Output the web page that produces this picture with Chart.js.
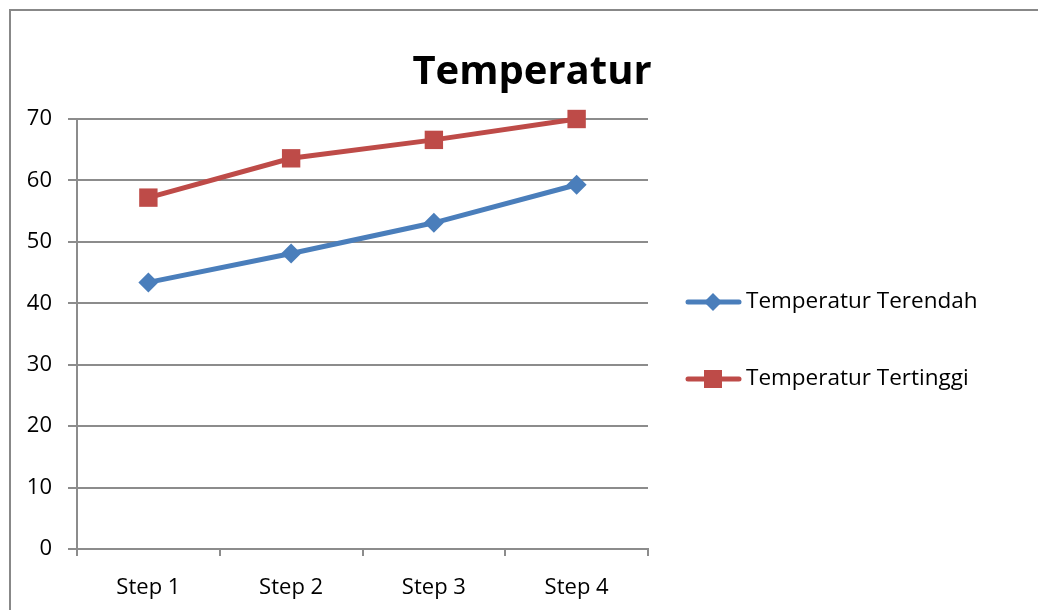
<!DOCTYPE html>
<html>
<head>
<meta charset="utf-8">
<script src="https://cdn.jsdelivr.net/npm/chart.js@4"></script>
<style>
  html, body { margin: 0; padding: 0; background: #fff; }
  #wrap { width: 1038px; height: 610px; }
</style>
</head>
<body>
<div id="wrap"><canvas id="c" width="1038" height="610"></canvas></div>
<script>
const chartTitle = "Temperatur";
const categories = ["Step 1", "Step 2", "Step 3", "Step 4"];
const seriesNames = ["Temperatur Terendah", "Temperatur Tertinggi"];
const lowValues = [43.4, 48.1, 53.1, 59.3];
const highValues = [57.2, 63.6, 66.6, 70.0];
const yTicks = [0, 10, 20, 30, 40, 50, 60, 70];

const FONT = "'Open Sans', 'DejaVu Sans', sans-serif";
const GRID = "#8c8c8c";
const BLUE = "#4A7EBB";
const RED = "#BE4B48";

const decorPlugin = {
  id: "decor",
  afterDraw(chart) {
    const ctx = chart.ctx;
    ctx.save();
    // frame (left + top)
    ctx.strokeStyle = "#888888";
    ctx.lineWidth = 2;
    ctx.beginPath();
    ctx.moveTo(10, 620);
    ctx.lineTo(10, 10);
    ctx.lineTo(1040, 10);
    ctx.stroke();
    // title
    ctx.fillStyle = "#000";
    ctx.font = "bold 40px " + FONT;
    ctx.textAlign = "center";
    ctx.textBaseline = "alphabetic";
    ctx.fillText(chartTitle, 532, 84);
    // legend
    const rows = [302, 379];
    chart.data.datasets.forEach((ds, i) => {
      const y = rows[i];
      ctx.strokeStyle = ds.borderColor;
      ctx.lineWidth = 5;
      ctx.lineCap = "round";
      ctx.beginPath();
      ctx.moveTo(688, y);
      ctx.lineTo(739, y);
      ctx.stroke();
      ctx.fillStyle = ds.borderColor;
      if (ds.pointStyle === "rectRot") {
        ctx.beginPath();
        ctx.moveTo(713, y - 9);
        ctx.lineTo(722, y);
        ctx.lineTo(713, y + 9);
        ctx.lineTo(704, y);
        ctx.closePath();
        ctx.fill();
      } else {
        ctx.fillRect(704, y - 9, 18, 18);
      }
      ctx.fillStyle = "#000";
      ctx.font = "22.5px " + FONT;
      ctx.textAlign = "left";
      ctx.textBaseline = "middle";
      ctx.fillText(ds.label, 746, y);
    });
    ctx.restore();
  }
};

new Chart(document.getElementById("c"), {
  type: "line",
  data: {
    labels: categories,
    datasets: [
      {
        label: seriesNames[0],
        data: lowValues,
        borderColor: BLUE,
        backgroundColor: BLUE,
        borderWidth: 5,
        tension: 0,
        clip: false,
        pointStyle: "rectRot",
        pointRadius: 10,
        pointHoverRadius: 10,
        pointBorderWidth: 0,
        pointBackgroundColor: BLUE
      },
      {
        label: seriesNames[1],
        data: highValues,
        borderColor: RED,
        backgroundColor: RED,
        borderWidth: 5,
        tension: 0,
        clip: false,
        pointStyle: "rect",
        pointRadius: 13,
        pointHoverRadius: 13,
        pointBorderWidth: 0,
        pointBackgroundColor: RED
      }
    ]
  },
  options: {
    responsive: false,
    animation: false,
    devicePixelRatio: 1,
    layout: { padding: { left: 0, right: 390, top: 119, bottom: 0 } },
    plugins: {
      legend: { display: false },
      title: { display: false },
      tooltip: { enabled: false }
    },
    scales: {
      x: {
        type: "category",
        offset: true,
        afterFit(scale) { scale.height = 61; },
        grid: {
          offset: true,
          drawOnChartArea: false,
          drawTicks: true,
          tickLength: 7,
          color: GRID,
          lineWidth: 2
        },
        border: { display: true, color: GRID, width: 2 },
        ticks: {
          color: "#000",
          font: { family: FONT, size: 22 },
          padding: 19,
          maxRotation: 0
        }
      },
      y: {
        min: 0,
        max: 70,
        afterFit(scale) { scale.width = 77; },
        afterBuildTicks(scale) { scale.ticks = yTicks.map(v => ({ value: v })); },
        grid: {
          drawOnChartArea: true,
          drawTicks: true,
          tickLength: 9,
          color: GRID,
          lineWidth: 2
        },
        border: { display: true, color: GRID, width: 2 },
        ticks: {
          color: "#000",
          font: { family: FONT, size: 22 },
          padding: 16
        }
      }
    }
  },
  plugins: [decorPlugin]
});
</script>
</body>
</html>
